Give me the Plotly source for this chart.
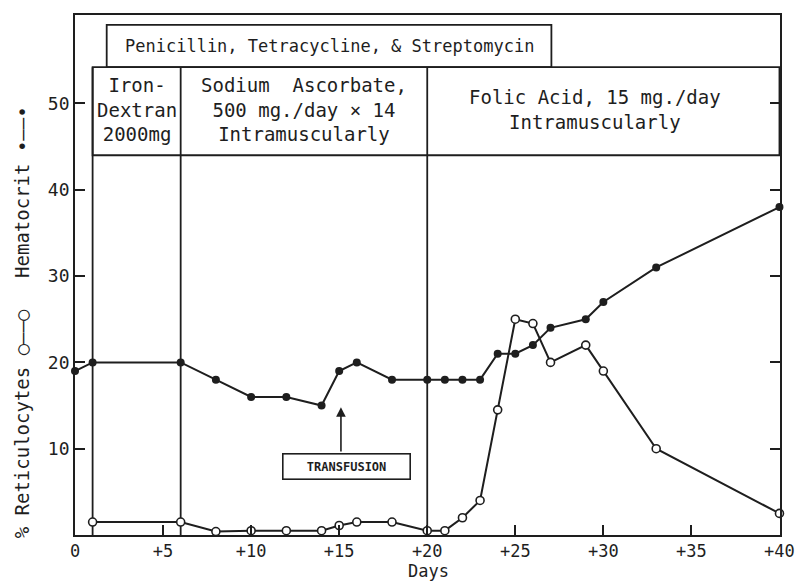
import plotly.graph_objects as go

# Hematocrit (filled circles) by day
hct_days = [0, 1, 6, 8, 10, 12, 14, 15, 16, 18, 20, 21, 22, 23, 24, 25, 26, 27, 29, 30, 33, 40]
hct_vals = [19, 20, 20, 18, 16, 16, 15, 19, 20, 18, 18, 18, 18, 18, 21, 21, 22, 24, 25, 27, 31, 38]

# Reticulocytes in percent (open circles) by day
ret_days = [1, 6, 8, 10, 12, 14, 15, 16, 18, 20, 21, 22, 23, 24, 25, 26, 27, 29, 30, 33, 40]
ret_vals = [1.5, 1.5, 0.4, 0.5, 0.5, 0.5, 1.1, 1.5, 1.5, 0.5, 0.5, 2, 4, 14.5, 25, 24.5, 20, 22, 19, 10, 2.5]

x_ticks = [0, 5, 10, 15, 20, 25, 30, 35, 40]
x_tick_text = ["0", "+5", "+10", "+15", "+20", "+25", "+30", "+35", "+40"]
y_ticks = [10, 20, 30, 40, 50]

# Treatment periods (day boundaries) and their labels
antibiotic_span = (1.8, 27.05)
antibiotic_label = "Penicillin, Tetracycline, & Streptomycin"
period_edges = [1, 6, 20, 40]
period_labels = [
    "Iron-<br>Dextran<br>2000mg",
    "Sodium  Ascorbate,<br>500 mg./day × 14<br>Intramuscularly",
    "Folic Acid, 15 mg./day<br>Intramuscularly",
]
transfusion_day = 15.1

INK = "#1e1e1e"
FONT = "DejaVu Sans Mono"

fig = go.Figure()

fig.add_trace(go.Scatter(
    x=hct_days, y=hct_vals, mode="lines+markers",
    line=dict(color=INK, width=2),
    marker=dict(symbol="circle", size=8, color=INK),
    showlegend=False, cliponaxis=False,
))
fig.add_trace(go.Scatter(
    x=ret_days, y=ret_vals, mode="lines+markers",
    line=dict(color=INK, width=2),
    marker=dict(symbol="circle", size=8, color="white", line=dict(color=INK, width=1.6)),
    showlegend=False, cliponaxis=False,
))

band_lo, band_hi, top_hi = 44.0, 54.2, 59.1
shapes = [
    # antibiotic box on top
    dict(type="rect", xref="x", yref="y", x0=antibiotic_span[0], x1=antibiotic_span[1],
         y0=band_hi, y1=top_hi, line=dict(color=INK, width=1.8), layer="below"),
    # treatment band
    dict(type="rect", xref="x", yref="y", x0=period_edges[0], x1=period_edges[-1],
         y0=band_lo, y1=band_hi, line=dict(color=INK, width=1.8), layer="below"),
]
for d in period_edges[:-1]:
    shapes.append(dict(type="line", xref="x", yref="y", x0=d, x1=d, y0=0, y1=band_hi,
                       line=dict(color=INK, width=1.8), layer="below"))

annotations = [
    dict(x=sum(antibiotic_span) / 2, y=(band_hi + top_hi) / 2, xref="x", yref="y",
         xanchor="center", yanchor="middle",
         text=antibiotic_label, showarrow=False, font=dict(family=FONT, size=17, color=INK)),
]
for i, lbl in enumerate(period_labels):
    cx = (period_edges[i] + period_edges[i + 1]) / 2
    if i == 2:
        cx -= 0.5
    annotations.append(dict(x=cx, y=(band_lo + band_hi) / 2 + 0.2, xref="x", yref="y", text=lbl,
                            xanchor="center", yanchor="middle",
                            showarrow=False, align="center",
                            font=dict(family=FONT, size=19, color=INK)))

# transfusion arrow and label box
annotations.append(dict(
    x=transfusion_day, y=14.8, xref="x", yref="y",
    ax=transfusion_day, ay=9.5, axref="x", ayref="y",
    text="", showarrow=True, arrowhead=2, arrowsize=1.2,
    arrowwidth=1.6, arrowcolor=INK, standoff=0, startstandoff=0,
))
annotations.append(dict(
    x=transfusion_day + 0.3, y=7.9, xref="x", yref="y",
    xanchor="center", yanchor="middle",
    text="<b>TRANSFUSION</b>", showarrow=False,
    bordercolor=INK, borderwidth=1.6, borderpad=3, bgcolor="white",
    width=120, height=18, font=dict(family=FONT, size=12, color=INK),
))

# axis titles
annotations += [
    dict(x=0.502, y=-0.069, xref="paper", yref="paper", text="Days", showarrow=False,
         xanchor="center", yanchor="middle",
         font=dict(family=FONT, size=17, color=INK)),
    dict(x=-0.075, y=0.66, xref="paper", yref="paper", text="Hematocrit •——•", textangle=-90,
         xanchor="center", yanchor="middle",
         showarrow=False, font=dict(family=FONT, size=19, color=INK)),
    dict(x=-0.075, y=0.213, xref="paper", yref="paper", text="% Reticulocytes ○——○",
         xanchor="center", yanchor="middle",
         textangle=-90, showarrow=False, font=dict(family=FONT, size=19, color=INK)),
]

fig.update_layout(
    width=795, height=581,
    margin=dict(l=75, r=15, t=15, b=46),
    paper_bgcolor="white", plot_bgcolor="white",
    shapes=shapes, annotations=annotations,
    font=dict(family=FONT, color=INK),
)
fig.update_xaxes(
    range=[0, 40.03], tickvals=x_ticks, ticktext=x_tick_text,
    ticks="inside", ticklen=10, tickwidth=1.6, tickcolor=INK,
    showline=True, linecolor=INK, linewidth=1.8, mirror=True,
    showgrid=False, zeroline=False, automargin=False, ticklabeloverflow="allow",
    tickfont=dict(family=FONT, size=17, color=INK),
)
fig.update_yaxes(
    range=[0, 60.25], tickvals=y_ticks,
    ticks="inside", ticklen=10, tickwidth=1.6, tickcolor=INK,
    showline=True, linecolor=INK, linewidth=1.8, mirror="ticks",
    showgrid=False, zeroline=False, automargin=False,
    tickfont=dict(family=FONT, size=18, color=INK),
)

fig.write_html("out.html")
